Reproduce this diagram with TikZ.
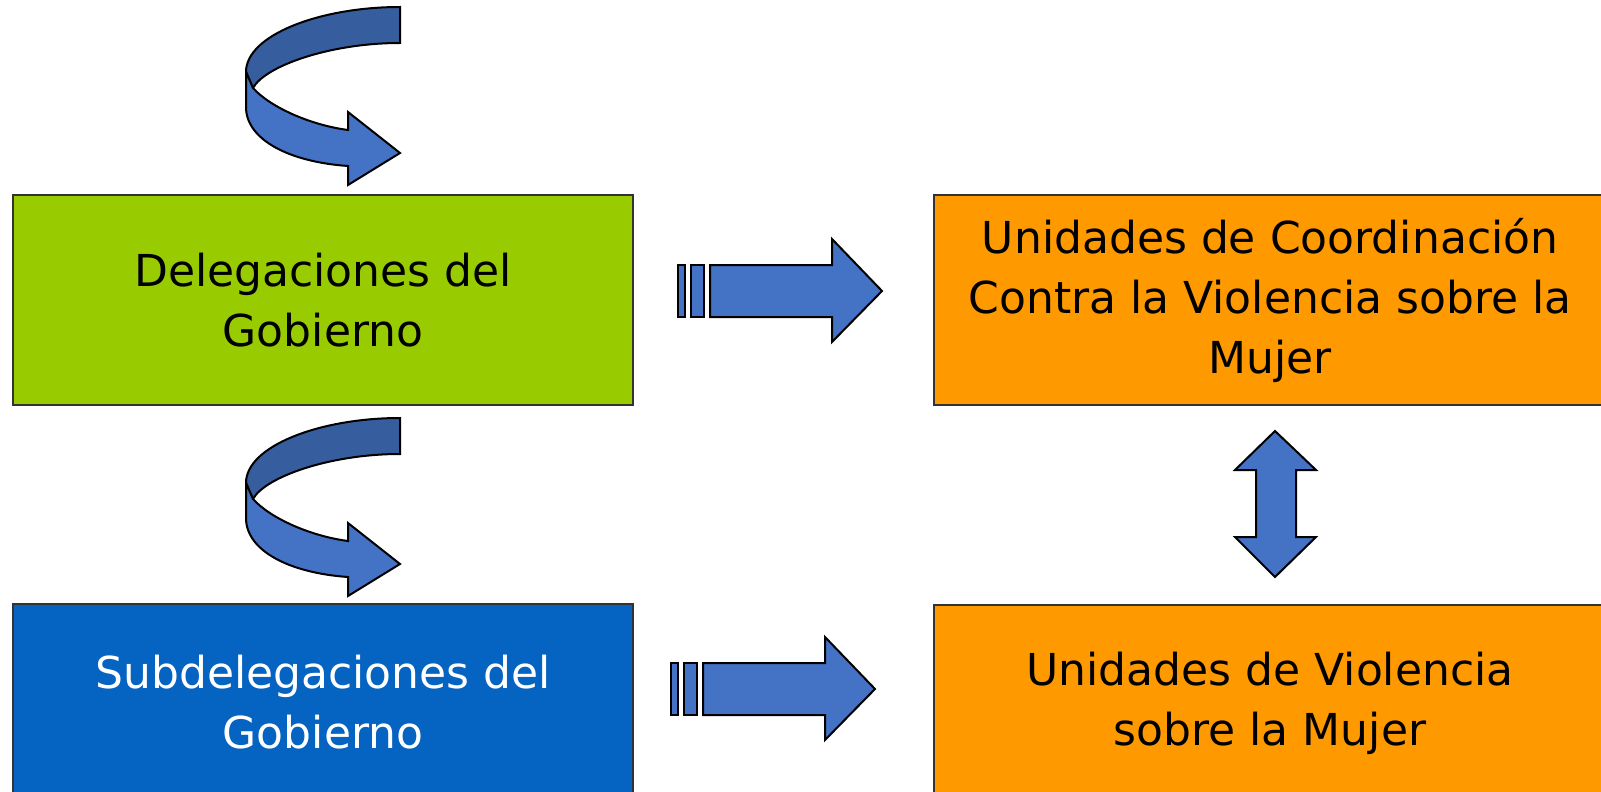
\documentclass[tikz,border=0pt]{standalone}
\usepackage{fontspec}
\usepackage{xcolor}
\usepackage{tikz}
\newfontfamily\boxfont{DejaVu Sans}
\definecolor{verde}{HTML}{99CC00}
\definecolor{azul}{HTML}{0563C1}
\definecolor{naranja}{HTML}{FF9900}
\definecolor{flecha}{HTML}{4472C4}
\definecolor{flechaosc}{HTML}{365E9E}
\tikzstyle{caja}=[draw=black!80,line width=0.75pt,inner sep=0pt,align=center,font=\boxfont\fontsize{22}{30}\selectfont]

\begin{document}
\begin{tikzpicture}[x=0.5pt,y=-0.5pt]
					\tikzstyle{bloque}=[draw=black,line width=1pt,fill=flecha,line join=miter]
					\useasboundingbox (0,0) rectangle (1601,792);
					\clip (0,0) rectangle (1601,792);
					% cajas
					\node [caja,fill=verde,minimum width=310pt,minimum height=105pt] (deleg) at (323,300) {Delegaciones del\\Gobierno};
					\node [caja,fill=azul,text=white,minimum width=310pt,minimum height=98pt] (subdeleg) at (323,702) {Subdelegaciones del\\Gobierno};
					\node [caja,fill=naranja,minimum width=336pt,minimum height=105pt] (ucoord) at (1270,300) {Unidades de Coordinaci\'on\\Contra la Violencia sobre la\\Mujer};
					\node [caja,fill=naranja,minimum width=336pt,minimum height=98pt] (uviol) at (1270,703) {Unidades de Violencia\\sobre la Mujer};
					% flechas curvas
					\foreach \dy in {0,411} {
						\begin{scope}[shift={(0,\dy)}]
							\draw [bloque,fill=flechaosc] (400,7) .. controls (320,7) and (246,35) .. (246,72)
								-- (253,88) .. controls (265,66) and (330,43) .. (400,43) -- cycle;
							\draw [bloque] (246,72) -- (246,107) .. controls (246,140) and (290,162) .. (348,166)
								-- (348,185) -- (400,153) -- (348,112) -- (348,130)
								.. controls (310,125) and (270,107) .. (253,88) -- cycle;
						\end{scope}
					}
					% flechas rayadas
					\foreach \dx/\dy in {0/0,-7/398} {
						\begin{scope}[shift={(\dx,\dy)}]
							\draw [bloque] (678,265) rectangle (685,317);
							\draw [bloque] (691,265) rectangle (704,317);
							\draw [bloque] (710,265) -- (832,265) -- (832,239) -- (882,291)
								-- (832,342) -- (832,317) -- (710,317) -- cycle;
						\end{scope}
					}
					% flecha doble
					\draw [bloque] (1275,431) -- (1316,470) -- (1296,470) -- (1296,537) -- (1316,537)
						-- (1275,577) -- (1235,537) -- (1256,537) -- (1256,470) -- (1235,470) -- cycle;
					\end{tikzpicture}
\end{document}
